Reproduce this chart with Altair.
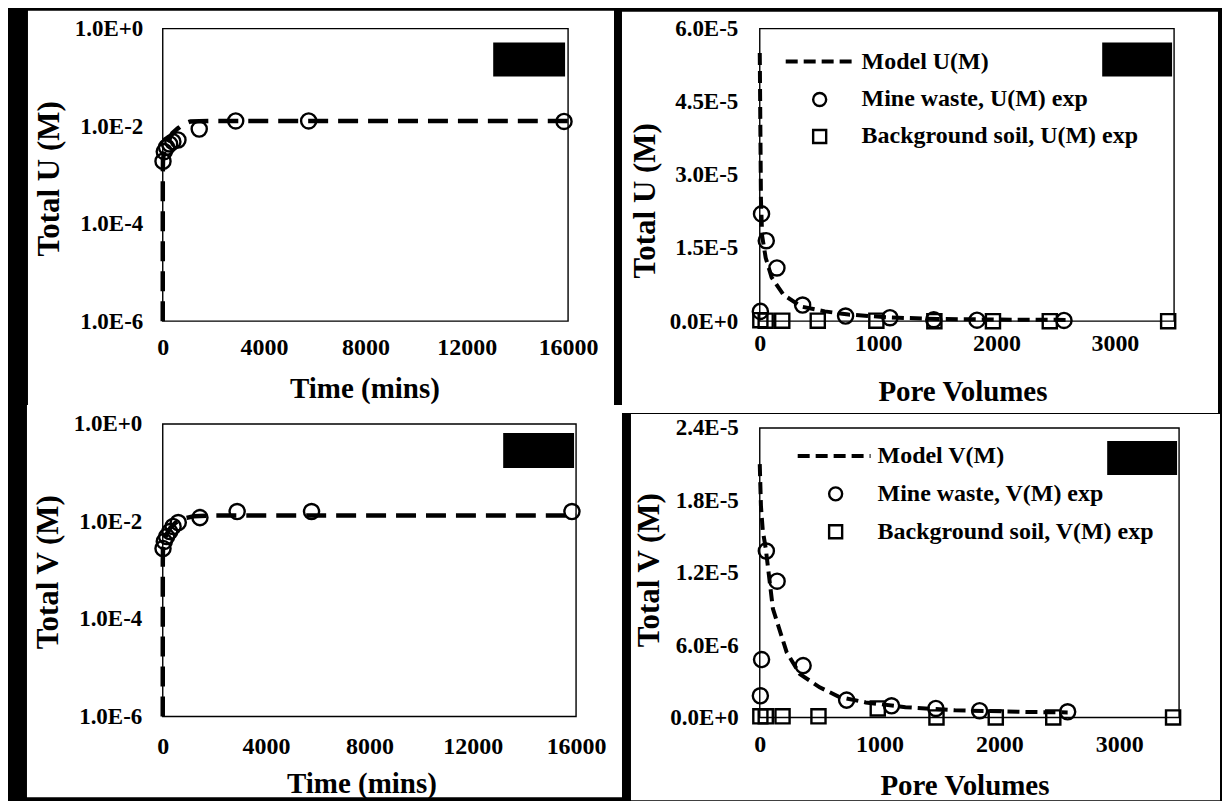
import altair as alt
import pandas as pd

FONT = "Liberation Serif"

# ---------------- data ----------------
# Left column: batch experiments, concentration vs time (log y)
t_model_u = [0, 2, 10, 60, 180, 380, 600, 820, 1100, 2000, 16000]
u_model_t = [1e-6, 1.0e-3, 2.0e-3, 3.2e-3, 4.6e-3, 7.2e-3, 9.0e-3, 1.1e-2, 1.25e-2, 1.28e-2, 1.28e-2]
t_model_v = [0, 2, 10, 60, 150, 300, 500, 800, 1200, 2000, 16000]
v_model_t = [1e-6, 1.5e-3, 2.8e-3, 4.0e-3, 5.5e-3, 7.5e-3, 9.5e-3, 1.15e-2, 1.28e-2, 1.32e-2, 1.32e-2]
t_exp = [10, 60, 150, 270, 400, 600, 1440, 2880, 5760, 15840]
u_exp_t = [0.0019, 0.0030, 0.0037, 0.0043, 0.0048, 0.0052, 0.0087, 0.0128, 0.0128, 0.0125]
v_exp_t = [0.0028, 0.0039, 0.0049, 0.0062, 0.0079, 0.0095, 0.0120, 0.0160, 0.0160, 0.0160]

# Right column: column experiments, concentration vs pore volumes
pv_model_u = [0, 10, 20, 50, 100, 200, 350, 550, 750, 1100, 1500, 2000, 2600]
u_model_pv = [5.5e-5, 2.5e-5, 1.75e-5, 1.3e-5, 9.0e-6, 5.4e-6, 3.0e-6, 2.0e-6, 1.35e-6, 7.5e-7, 4.5e-7, 3.2e-7, 2.5e-7]
pv_model_v = [0, 10, 25, 50, 110, 225, 335, 500, 665, 885, 1216, 1630, 2270, 2570]
v_model_pv = [2.1e-5, 1.75e-5, 1.55e-5, 1.4e-5, 9.0e-6, 5.4e-6, 3.6e-6, 2.5e-6, 1.7e-6, 1.25e-6, 8.5e-7, 6.0e-7, 4.5e-7, 4.2e-7]
pv_mine = [5, 15, 55, 145, 362, 725, 1100, 1470, 1835, 2570]
u_mine = [2.0e-6, 2.2e-5, 1.65e-5, 1.09e-5, 3.3e-6, 1.05e-6, 7.0e-7, 3.0e-7, 2.0e-7, 1.5e-7]
v_mine = [1.8e-6, 4.8e-6, 1.38e-5, 1.13e-5, 4.3e-6, 1.44e-6, 9.7e-7, 7.5e-7, 5.6e-7, 4.7e-7]
pv_bg = [5, 50, 190, 490, 985, 1475, 1970, 2450, 3450]
u_bg = [2e-7, 1e-7, 1e-7, 1e-7, 1e-7, 0, 0, 0, 0]
v_bg = [1e-7, 1e-7, 1e-7, 1e-7, 7.5e-7, 0, 0, 0, 0]

# axis ticks / labels
time_ticks = [0, 4000, 8000, 12000, 16000]
time_labels = ["0", "4000", "8000", "12000", "16000"]
pv_ticks = [0, 1000, 2000, 3000]
pv_labels = ["0", "1000", "2000", "3000"]
log_ticks = [1e-6, 1e-4, 1e-2, 1]
log_labels = ["1.0E-6", "1.0E-4", "1.0E-2", "1.0E+0"]
u_pv_ticks = [0, 1.5e-5, 3.0e-5, 4.5e-5, 6.0e-5]
u_pv_labels = ["0.0E+0", "1.5E-5", "3.0E-5", "4.5E-5", "6.0E-5"]
v_pv_ticks = [0, 6.0e-6, 1.2e-5, 1.8e-5, 2.4e-5]
v_pv_labels = ["0.0E+0", "6.0E-6", "1.2E-5", "1.8E-5", "2.4E-5"]

legend_u = ["Model U(M)", "Mine waste, U(M) exp", "Background soil, U(M) exp"]
legend_v = ["Model V(M)", "Mine waste, V(M) exp", "Background soil, V(M) exp"]


def lbl_expr(vals, labels):
    expr = "''"
    for v, s in reversed(list(zip(vals, labels))):
        tol = abs(v) * 1e-3 if v != 0 else 1e-12
        expr = f"abs(datum.value - {v!r}) <= {tol!r} ? '{s}' : ({expr})"
    return expr


def axis(title, vals, labels, orient, label_pad, title_x, title_y):
    common = dict(
        values=vals, labelExpr=lbl_expr(vals, labels), title=title,
        grid=False, domain=False, ticks=False, tickSize=0,
        labelFont=FONT, labelFontWeight="bold", labelColor="black",
        labelPadding=label_pad, labelFlush=False, labelOverlap=False,
        titleFont=FONT, titleFontWeight="bold", titleColor="black",
        titleX=title_x, titleY=title_y, titleAlign="center", titleBaseline="middle",
        zindex=1,
    )
    if orient == "x":
        return alt.Axis(labelBaseline="middle", labelAlign="center", titleAngle=0,
                        labelFontSize=24, titleFontSize=29, **common)
    return alt.Axis(labelBaseline="middle", labelAlign="right", titleAngle=270,
                    labelFontSize=23, titleFontSize=31, **common)


ONE = alt.Data(values=[{"k": 0}])


def rect(x1, x2, y1, y2, fill):
    return alt.Chart(ONE).mark_rect(color=fill).encode(
        x=alt.value(x1), x2=alt.value(x2), y=alt.value(y1), y2=alt.value(y2))


def frame(w, h):
    return alt.Chart(ONE).mark_rect(fillOpacity=0, stroke="black", strokeWidth=1.4).encode(
        x=alt.value(0), x2=alt.value(w), y=alt.value(0), y2=alt.value(h))


def panel(g):
    X = alt.X("x:Q", scale=g["xscale"], axis=axis(g["xtitle"], g["xticks"], g["xlabels"], "x",
                                                   g["xpad"], g["xtx"], g["xty"]))
    Y = alt.Y("y:Q", scale=g["yscale"], axis=axis(g["ytitle"], g["yticks"], g["ylabels"], "y",
                                                   g["ypad"], g["ytx"], g["yty"]))
    layers = []
    for (x1, x2, y1, y2) in g.get("black_strips", []):
        layers.append(rect(x1, x2, y1, y2, "black"))
    wx1, wx2, wy1, wy2 = g["white"]
    layers.append(rect(wx1, wx2, wy1, wy2, "white"))
    layers.append(frame(g["w"], g["h"]))

    mx, my = g["model"]
    layers.append(alt.Chart(pd.DataFrame({"x": mx, "y": my})).mark_line(
        color="black", strokeWidth=g["lw"], strokeDash=g["dash"], strokeCap="butt").encode(x=X, y=Y))
    cx, cy = g["circles"]
    layers.append(alt.Chart(pd.DataFrame({"x": cx, "y": cy})).mark_point(
        shape="circle", filled=False, color="black", strokeWidth=2.4, size=230, opacity=1).encode(x=X, y=Y))
    if "squares" in g:
        sx, sy = g["squares"]
        layers.append(alt.Chart(pd.DataFrame({"x": sx, "y": sy})).mark_point(
            shape="square", filled=False, color="black", strokeWidth=2.4, size=200, opacity=1).encode(x=X, y=Y))

    if "legend" in g:
        lg = g["legend"]
        names = lg["names"]
        layers.append(alt.Chart(ONE).mark_rule(color="black", strokeWidth=g["lw"], strokeDash=g["dash"],
                                               strokeCap="butt").encode(
            x=alt.value(lg["lx1"]), x2=alt.value(lg["lx2"]), y=alt.value(lg["ys"][0])))
        layers.append(alt.Chart(ONE).mark_point(shape="circle", filled=False, color="black",
                                                strokeWidth=2.4, size=170, opacity=1).encode(
            x=alt.value(lg["mx"]), y=alt.value(lg["ys"][1])))
        layers.append(alt.Chart(ONE).mark_point(shape="square", filled=False, color="black",
                                                strokeWidth=2.4, size=170, opacity=1).encode(
            x=alt.value(lg["mx"]), y=alt.value(lg["ys"][2])))
        for name, yy in zip(names, lg["ys"]):
            layers.append(alt.Chart(alt.Data(values=[{"label": name}])).mark_text(
                align="left", baseline="middle", font=FONT, fontSize=24, fontWeight="bold",
                color="black").encode(text="label:N", x=alt.value(lg["tx"]), y=alt.value(yy)))

    bx1, bx2, by1, by2 = g["box"]
    layers.append(rect(bx1, bx2, by1, by2, "black"))
    return alt.layer(*layers).properties(width=g["w"], height=g["h"])


time_scale = alt.Scale(domain=[0, 16000], nice=False, zero=False)
log_scale = alt.Scale(type="log", domain=[1e-6, 1], nice=False)
pv_scale = alt.Scale(domain=[0, 3500], nice=False, zero=False)

TL = panel(dict(
    w=406, h=293, xscale=time_scale, yscale=log_scale,
    xtitle="Time (mins)", xticks=time_ticks, xlabels=time_labels, xpad=26, xtx=202, xty=67,
    ytitle="Total U (M)", yticks=log_ticks, ylabels=log_labels, ypad=20, ytx=-113, yty=150,
    black_strips=[(-135, 452, -20, -18)], white=(-135, 452, -18, 377),
    model=(t_model_u, u_model_t), circles=(t_exp, u_exp_t),
    lw=4.5, dash=[20, 10], box=(331, 403, 14, 48)))

BL = panel(dict(
    w=414, h=293, xscale=time_scale, yscale=log_scale,
    xtitle="Time (mins)", xticks=time_ticks, xlabels=time_labels, xpad=30, xtx=199, xty=67,
    ytitle="Total V (M)", yticks=log_ticks, ylabels=log_labels, ypad=21, ytx=-114, yty=148,
    white=(-136, 460, -19, 374),
    model=(t_model_v, v_model_t), circles=(t_exp, v_exp_t),
    lw=4.5, dash=[20, 10], box=(341, 412, 9, 44)))

TR = panel(dict(
    w=415, h=293, xscale=pv_scale, yscale=alt.Scale(domain=[0, 6e-5], nice=False, zero=False),
    xtitle="Pore Volumes", xticks=pv_ticks, xlabels=pv_labels, xpad=22, xtx=203, xty=70,
    ytitle="Total U (M)", yticks=u_pv_ticks, ylabels=u_pv_labels, ypad=22, ytx=-114, yty=172,
    white=(-138, 459, -17, 385),
    model=(pv_model_u, u_model_pv), circles=(pv_mine, u_mine), squares=(pv_bg, u_bg),
    lw=4, dash=[12, 6], box=(343, 413, 14, 48),
    legend=dict(names=legend_u, lx1=26, lx2=96, tx=102, mx=60, ys=[33, 71, 108])))

BR = panel(dict(
    w=420, h=290, xscale=pv_scale, yscale=alt.Scale(domain=[0, 2.4e-5], nice=False, zero=False),
    xtitle="Pore Volumes", xticks=pv_ticks, xlabels=pv_labels, xpad=27, xtx=205, xty=68,
    ytitle="Total V (M)", yticks=v_pv_ticks, ylabels=v_pv_labels, ypad=21.5, ytx=-110, yty=142,
    black_strips=[(-136, -129, -14, 373)], white=(-129, 461, -14, 373),
    model=(pv_model_v, v_model_pv), circles=(pv_mine, v_mine), squares=(pv_bg, v_bg),
    lw=4, dash=[12, 6], box=(348, 418, 13, 47),
    legend=dict(names=legend_v, lx1=38, lx2=111, tx=118, mx=76, ys=[28, 66, 104])))

left = alt.vconcat(TL, BL, spacing=0)
right = alt.vconcat(TR, BR, spacing=1)
chart = alt.hconcat(left, right, spacing=0).properties(
    background="black",
    padding={"left": 19, "top": 0, "right": 2, "bottom": 0},
).configure_view(strokeWidth=0)

chart.save("out.html", embed_options={"renderer": "svg", "actions": False})
